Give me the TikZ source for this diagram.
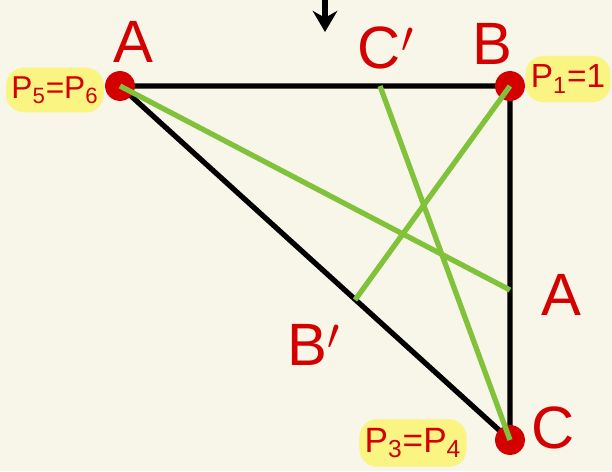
\documentclass[tikz,border=0pt]{standalone}
\usepackage{fontspec}
\setmainfont{Liberation Sans}
\usepackage{tikz}
\usetikzlibrary{arrows.meta,positioning,calc}
\usepackage{xcolor}
\definecolor{paper}{RGB}{248,245,233}
\definecolor{inkred}{RGB}{212,0,0}
\definecolor{leaf}{RGB}{128,194,58}
\definecolor{marker}{RGB}{250,244,130}

\begin{document}
\begin{tikzpicture}[x=0.02cm,y=-0.02cm,
    side/.style={line width=3pt,black},
    cevian/.style={line width=3pt,leaf},
    dot/.style={circle,fill=inkred,inner sep=0pt,minimum size=17pt},
    vlabel/.style={text=inkred,font=\fontsize{34}{36}\selectfont},
    plabel/.style={text=inkred,fill=marker,rounded corners=10pt,inner xsep=3pt,
      inner ysep=5pt,font=\fontsize{20}{22}\selectfont}]
        \fill[paper] (0,0) rectangle (612,471);
        \useasboundingbox (0,0) rectangle (612,471);
        % triangle corners and feet of the green lines
        \coordinate (A) at (120,86);
        \coordinate (B) at (510,86);
        \coordinate (C) at (510,440);
        \coordinate (Ap) at (510,290);
        \coordinate (Bp) at (355,300);
        \coordinate (Cp) at (380,86);
        \draw[side] (A) -- (B) -- (C) -- cycle;
        % labels
        \node[vlabel] (lA) at (133,42) {A};
        \node[vlabel] (lB) at (492,44) {B};
        \node[vlabel] (lC) at (553,428) {C};
        \node[vlabel] (lCp) at (386,48) {C$'$};
        \node[vlabel] (lAp) at (561,295) {A};
        \node[vlabel] (lBp) at (314,345) {B$'$};
        \node[plabel,font=\fontsize{18}{20}\selectfont] (p56) at (55,90) {P\textsubscript{5}=P\textsubscript{6}};
        \node[plabel,font=\fontsize{19}{21}\selectfont] (p1) at (568,79) {P\textsubscript{1}=1};
        \node[plabel] (p34) at (413,443) {P\textsubscript{3}=P\textsubscript{4}};
        \node[dot] (dA) at (A) {};
        \node[dot] (dB) at (B) {};
        \node[dot] (dC) at (C) {};
        \draw[cevian] (A) -- (Ap);
        \draw[cevian] (B) -- (Bp);
        \draw[cevian] (C) -- (Cp);
        \coordinate (top) at (325,-4);
        \coordinate (tip) at (325,32);
        \draw[line width=3pt,-{Stealth[length=12pt,width=14pt]}] (top) -- (tip);
\end{tikzpicture}
\end{document}
